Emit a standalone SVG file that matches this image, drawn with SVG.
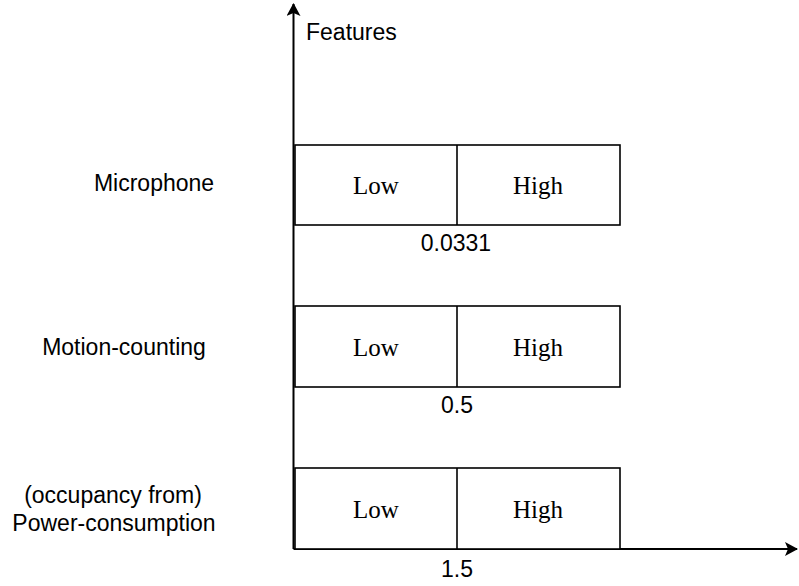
<svg xmlns="http://www.w3.org/2000/svg" width="799" height="586" viewBox="0 0 799 586">
<style>
.box{fill:#fff;stroke:#000;stroke-width:1.6}
.div{stroke:#000;stroke-width:1.6}
.axis{stroke:#000;stroke-width:2;fill:none}
.lbl{font-family:"Liberation Sans",Arial,sans-serif;font-size:23px;fill:#000}
.ser{font-family:"Liberation Serif","Times New Roman",serif;font-size:25px;fill:#000;text-anchor:middle}
.mid{text-anchor:middle}
</style>
<defs>
<marker id="arr" markerWidth="14" markerHeight="14" refX="12" refY="7" orient="auto" markerUnits="userSpaceOnUse">
<path d="M0,0 L13,7 L0,14 L3,7 Z" fill="#000"/>
</marker>
</defs>
<g id="connectors">
<line class="axis" x1="293.5" y1="549" x2="293.5" y2="4" marker-end="url(#arr)"/>
<line class="axis" x1="293.5" y1="549" x2="797" y2="549" marker-end="url(#arr)"/>
</g>
<text class="lbl" x="306" y="40">Features</text>
<g id="microphone">
<text class="lbl mid" x="154" y="191">Microphone</text>
<rect class="box" x="295" y="145" width="325" height="80"/>
<line class="div" x1="457" y1="145" x2="457" y2="225"/>
<text class="ser" x="376" y="194">Low</text>
<text class="ser" x="538" y="194">High</text>
<text class="lbl mid" x="456" y="251">0.0331</text>
</g>
<g id="motion">
<text class="lbl mid" x="124" y="355">Motion-counting</text>
<rect class="box" x="295" y="306" width="325" height="81"/>
<line class="div" x1="457" y1="306" x2="457" y2="387"/>
<text class="ser" x="376" y="356">Low</text>
<text class="ser" x="538" y="356">High</text>
<text class="lbl mid" x="457" y="413">0.5</text>
</g>
<g id="power">
<text class="lbl mid" x="113" y="503">(occupancy from)</text>
<text class="lbl mid" x="114" y="531">Power-consumption</text>
<rect class="box" x="295" y="468" width="325" height="81"/>
<line class="div" x1="457" y1="468" x2="457" y2="549"/>
<text class="ser" x="376" y="518">Low</text>
<text class="ser" x="538" y="518">High</text>
<text class="lbl mid" x="457" y="577">1.5</text>
</g>
</svg>
